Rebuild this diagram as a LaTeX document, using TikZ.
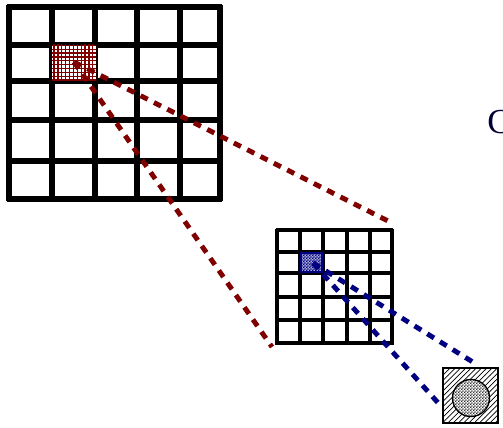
\documentclass[tikz,border=0pt]{standalone}
\usepackage{fontspec}
\setmainfont{Liberation Serif}
\usetikzlibrary{patterns}
\definecolor{dred}{RGB}{128,0,0}
\definecolor{dnavy}{RGB}{0,0,128}
\pgfdeclarepatternformonly{densecheck}{\pgfqpoint{0pt}{0pt}}{\pgfqpoint{1.6pt}{1.6pt}}{\pgfqpoint{1.6pt}{1.6pt}}{%
  \pgfpathrectangle{\pgfqpoint{0pt}{0pt}}{\pgfqpoint{0.8pt}{0.8pt}}%
  \pgfpathrectangle{\pgfqpoint{0.8pt}{0.8pt}}{\pgfqpoint{0.8pt}{0.8pt}}%
  \pgfusepath{fill}}
\pgfdeclarepatternformonly{densegrid}{\pgfqpoint{-0.5pt}{-0.5pt}}{\pgfqpoint{2.2pt}{2.2pt}}{\pgfqpoint{2.2pt}{2.2pt}}{%
  \pgfsetlinewidth{0.7pt}%
  \pgfpathmoveto{\pgfqpoint{0pt}{-0.5pt}}\pgfpathlineto{\pgfqpoint{0pt}{2.2pt}}%
  \pgfpathmoveto{\pgfqpoint{-0.5pt}{0pt}}\pgfpathlineto{\pgfqpoint{2.2pt}{0pt}}%
  \pgfusepath{stroke}}
\begin{document}
\begin{tikzpicture}[x=0.02cm,y=-0.02cm,
  biggrid/.style={line width=3pt},
  smallgrid/.style={line width=2.3pt},
  reddash/.style={draw=dred,line width=2.8pt,dash pattern=on 4.5pt off 4pt},
  bluedash/.style={draw=dnavy,line width=2.8pt,dash pattern=on 4.5pt off 4pt}]
\useasboundingbox (0,0) rectangle (503,428);
% big grid
\foreach \x in {9,52,95,137,180,220} \draw[biggrid] (\x,5) -- (\x,201);
\foreach \y in {7,45,81,120,161,199} \draw[biggrid] (7,\y) -- (222,\y);
% red cell
\node[fill=white,minimum width=44*0.02cm,minimum height=36*0.02cm,inner sep=0pt] (rcw) at (74,63) {};
\node[pattern=densegrid,pattern color=dred,minimum width=44*0.02cm,minimum height=36*0.02cm,inner sep=0pt] (rc) at (74,63) {};
% small grid
\foreach \x in {277,300,323,347,370,392} \draw[smallgrid] (\x,229) -- (\x,345);
\foreach \y in {230,252,273,297,320,343} \draw[smallgrid] (276,\y) -- (393,\y);
% blue cell
\node[fill=dnavy!35,draw=dnavy,line width=1.5pt,minimum width=21*0.02cm,minimum height=19*0.02cm,inner sep=0pt] (bcw) at (311.5,262.5) {};
\node[pattern=densecheck,pattern color=dnavy,minimum width=21*0.02cm,minimum height=19*0.02cm,inner sep=0pt] (bc) at (311.5,262.5) {};
% output box
\node[draw,line width=1.4pt,pattern=north east lines,minimum width=55*0.02cm,minimum height=55*0.02cm,inner sep=0pt] (ob) at (470.5,395.5) {};
\node[circle,draw,line width=0.8pt,fill=white,minimum size=37*0.02cm,inner sep=0pt] (oc) at (471,398) {};
\node[circle,pattern=densecheck,pattern color=black!80,minimum size=36*0.02cm,inner sep=0pt] (ocp) at (471,398) {};
% connectors
\coordinate (rs) at (74,62);
\coordinate (re1) at (390,222);
\coordinate (re2) at (272,347);
\coordinate (bs) at (313,263);
\coordinate (be1) at (476,364);
\coordinate (be2) at (440,405);
\draw[reddash] (rs) -- (re1);
\draw[reddash] (rs) -- (re2);
\draw[bluedash] (bs) -- (be1);
\draw[bluedash] (bs) -- (be2);
% partial text
\node[anchor=west,inner sep=0pt,text=dnavy!40!black,font=\fontsize{20}{24}\selectfont] (ct) at (487,122) {C};
\end{tikzpicture}
\end{document}
